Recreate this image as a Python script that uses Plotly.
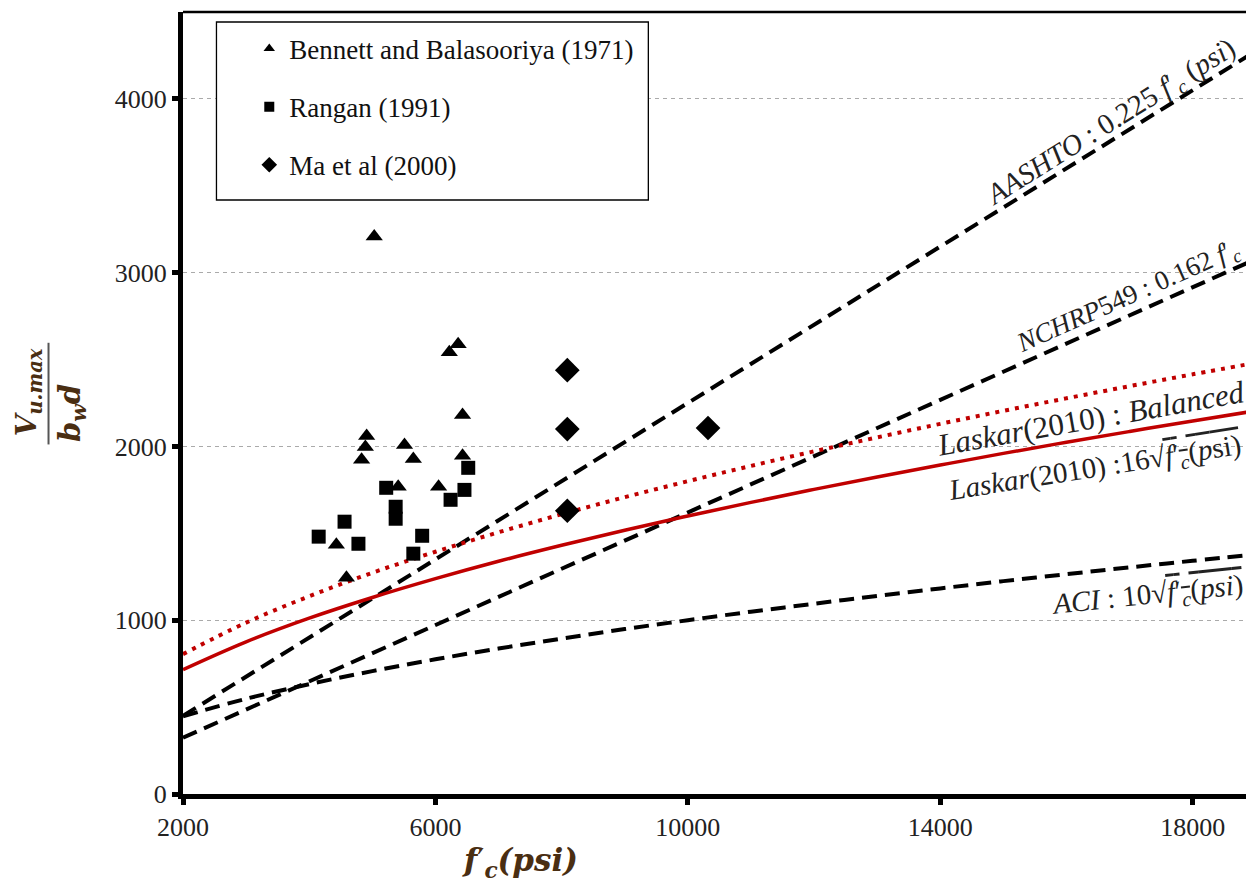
import plotly.graph_objects as go

# ---------------- data ----------------
# Bennett and Balasooriya (1971)
bennett_fc = [5030, 6360, 6220, 4910, 4890, 4830, 5510, 5650, 6430, 6430, 5410, 6050, 4430, 4590]
bennett_v = [3208, 2588, 2542, 2060, 1997, 1923, 2009, 1928, 2181, 1946, 1768, 1768, 1435, 1245]
# Rangan (1991)
rangan_fc = [4150, 4560, 4780, 5220, 5370, 5370, 5790, 5650, 6240, 6460, 6520]
rangan_v = [1481, 1567, 1440, 1762, 1653, 1584, 1486, 1383, 1693, 1750, 1877]
# Ma et al (2000)
ma_fc = [8090, 8090, 8090, 10320]
ma_v = [2439, 2100, 1630, 2106]

# design lines
fc_line = [2000, 19000]
aashto_v = [450, 4275]
nchrp_v = [324, 3078]

fc_curve = [2000, 3000, 4000, 5000, 6000, 7000, 8000, 9000, 10000, 11000,
            12000, 13000, 14000, 15000, 16000, 17000, 18000, 19000]
aci_v = [447, 548, 632, 707, 775, 837, 894, 949, 1000, 1049,
         1095, 1140, 1183, 1225, 1265, 1304, 1342, 1378]
laskar16_v = [716, 876, 1012, 1131, 1239, 1339, 1431, 1518, 1600, 1678,
              1753, 1824, 1893, 1960, 2024, 2086, 2147, 2205]
balanced_v = [805, 986, 1138, 1273, 1394, 1506, 1610, 1708, 1800, 1888,
              1972, 2052, 2130, 2205, 2277, 2347, 2415, 2481]

x_ticks = [2000, 6000, 10000, 14000, 18000]
y_ticks = [0, 1000, 2000, 3000, 4000]

legend_names = ["Bennett and Balasooriya (1971)", "Rangan (1991)", "Ma et al (2000)"]

# ---------------- figure ----------------
SERIF = "Liberation Serif, Times New Roman, serif"
TITLE_FONT = "DejaVu Serif, serif"
RED = "#c00000"
TITLE_COL = "#4a2e12"
dash_style = "15px,8px"
OVL = "<span style='text-decoration:overline'>"

fig = go.Figure()

fig.add_trace(go.Scatter(x=fc_line, y=aashto_v, mode="lines", showlegend=False,
                         line=dict(color="black", width=4, dash=dash_style)))
fig.add_trace(go.Scatter(x=fc_line, y=nchrp_v, mode="lines", showlegend=False,
                         line=dict(color="black", width=4, dash=dash_style)))
fig.add_trace(go.Scatter(x=fc_curve, y=aci_v, mode="lines", showlegend=False, line_shape="spline",
                         line=dict(color="black", width=4, dash=dash_style)))
fig.add_trace(go.Scatter(x=fc_curve, y=balanced_v, mode="lines", showlegend=False, line_shape="spline",
                         line=dict(color=RED, width=4, dash="4px,6px")))
fig.add_trace(go.Scatter(x=fc_curve, y=laskar16_v, mode="lines", showlegend=False, line_shape="spline",
                         line=dict(color=RED, width=3.5)))

fig.add_trace(go.Scatter(x=bennett_fc, y=bennett_v, mode="markers", showlegend=False,
                         marker=dict(symbol="triangle-up", size=15, color="black")))
fig.add_trace(go.Scatter(x=rangan_fc, y=rangan_v, mode="markers", showlegend=False,
                         marker=dict(symbol="square", size=14, color="black")))
fig.add_trace(go.Scatter(x=ma_fc, y=ma_v, mode="markers", showlegend=False,
                         marker=dict(symbol="diamond", size=19, color="black")))

# legend entries
for name, sym, sz in zip(legend_names, ["triangle-up", "square", "diamond"], [10, 10, 12]):
    fig.add_trace(go.Scatter(x=[None], y=[None], mode="markers", name=name, legendgroup=name,
                             marker=dict(symbol=sym, size=sz, color="black")))

ann_font = dict(family=SERIF, size=29, color="#222222")
annotations = [
    dict(x=16700, y=3860, text="<i>AASHTO</i> : 0.225 <i>f</i>′<sub><i>c</i></sub> (<i>psi</i>)", textangle=-32),
    dict(x=16990, y=2860, text="<i>NCHRP</i>549 : 0.162 <i>f</i>′<sub><i>c</i></sub>", textangle=-24,
         font=dict(family=SERIF, size=27, color="#222222")),
    dict(x=16380, y=2158, text="<i>Laskar</i>(2010) : <i>Balanced</i>", textangle=-10,
         font=dict(family=SERIF, size=31, color="#222222")),
    dict(x=16455, y=1871,
         text="<i>Laskar</i>(2010) :16√" + OVL + "<i>f</i>′<sub><i>c</i></sub>(<i>p</i>si)</span>",
         textangle=-9),
    dict(x=17280, y=1142,
         text="<i>ACI</i> : 10√" + OVL + "<i>f</i>′<sub><i>c</i></sub>(<i>psi</i>)</span>",
         textangle=-6),
]
for a in annotations:
    a.setdefault("font", ann_font)
    a.update(xref="x", yref="y", showarrow=False, xanchor="center", yanchor="middle")

# axis titles
annotations += [
    dict(xref="paper", yref="paper", x=-0.1445, y=0.513, xanchor="center", yanchor="middle",
         showarrow=False, textangle=-90,
         text="<b><i>V</i></b><sub><b><i>u.max</i></b></sub>",
         font=dict(family=TITLE_FONT, size=28, color=TITLE_COL)),
    dict(xref="paper", yref="paper", x=-0.104, y=0.487, xanchor="center", yanchor="middle",
         showarrow=False, textangle=-90,
         text="<b><i>b</i></b><sub><b><i>w</i></b></sub><b><i>d</i></b>",
         font=dict(family=TITLE_FONT, size=29, color=TITLE_COL)),
    dict(xref="paper", yref="paper", x=0.3156, y=-0.087, xanchor="center", yanchor="middle",
         showarrow=False,
         text="<b><i>f</i></b>′<sub><b><i>c</i></b></sub><b><i>(psi)</i></b>",
         font=dict(family=TITLE_FONT, size=31, color=TITLE_COL)),
]

shapes = [
    # fraction bar of y title
    dict(type="line", xref="paper", yref="paper", x0=-0.1258, x1=-0.1258, y0=0.447, y1=0.577,
         line=dict(color="#555555", width=2)),
    # legend box
    dict(type="rect", xref="paper", yref="paper", x0=0.0313, x1=0.4353, y0=0.7596, y1=0.9872,
         fillcolor="white", line=dict(color="black", width=1.3), layer="above"),
    # top border
    dict(type="line", xref="paper", yref="paper", x0=0, x1=1, y0=1, y1=1,
         line=dict(color="black", width=2.5)),
]

fig.update_layout(
    width=1246, height=876,
    margin=dict(l=175, r=2, t=4, b=90),
    paper_bgcolor="white", plot_bgcolor="white",
    font=dict(family=SERIF, size=26, color="#222222"),
    showlegend=True,
    legend=dict(x=0.062, y=0.984, xanchor="left", yanchor="top",
                bgcolor="rgba(0,0,0,0)", borderwidth=0, tracegroupgap=20,
                font=dict(family=SERIF, size=27, color="#111111")),
    annotations=annotations, shapes=shapes,
    xaxis=dict(range=[2000, 18940], tickvals=x_ticks, ticktext=[str(v) for v in x_ticks],
               showgrid=False, zeroline=False, showline=True, linecolor="black", linewidth=5,
               ticks="outside", ticklen=6, tickwidth=5, tickcolor="black", automargin=False,
               tickfont=dict(family=SERIF, size=26, color="#222222")),
    yaxis=dict(range=[0, 4500], tickvals=y_ticks, ticktext=[str(v) for v in y_ticks],
               showgrid=True, gridcolor="#aaaaaa", griddash="4px,4px", gridwidth=1,
               zeroline=False, showline=True, linecolor="black", linewidth=5,
               ticks="outside", ticklen=6, tickwidth=5, tickcolor="black", automargin=False,
               tickfont=dict(family=SERIF, size=26, color="#222222")),
)

fig.write_html("out.html")
